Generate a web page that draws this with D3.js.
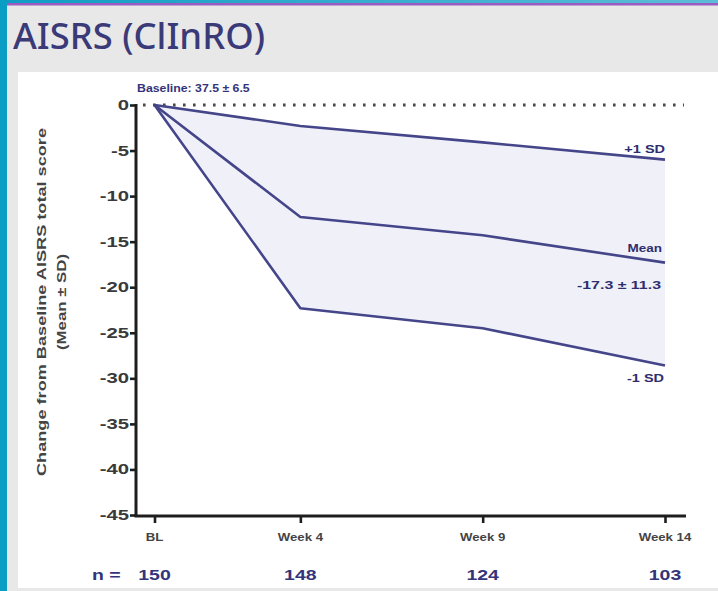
<!DOCTYPE html>
<html>
<head>
<meta charset="utf-8">
<script src="https://cdn.jsdelivr.net/npm/d3@7/dist/d3.min.js"></script>
<style>
  html, body { margin: 0; padding: 0; background: #e8e8e8; }
  svg { display: block; }
</style>
</head>
<body>
<svg id="chart" width="718" height="591"></svg>
<script>
// Visits (weeks from baseline) and their tick labels
const weeks = [0, 4, 9, 14];
const visitLabels = ["BL", "Week 4", "Week 9", "Week 14"];
const nPatients = [150, 148, 124, 103];

// Change from baseline in AISRS total score
const meanChange = [0, -12.3, -14.3, -17.3];
const plusOneSD  = [0, -2.3, -4.1, -6.0];
const minusOneSD = [0, -22.3, -24.5, -28.6];

const yTicks = [0, -5, -10, -15, -20, -25, -30, -35, -40, -45];

const navy = "#45458a";
const textNavy = "#34347a";
const axisInk = "#1e1e1e";
const tickInk = "#3c3c3c";

const svg = d3.select("#chart");

// page frame: grey card, teal edge, coloured top rule, white chart panel
svg.append("rect").attr("x", 0).attr("y", 0).attr("width", 718).attr("height", 591).attr("fill", "#e8e8e8");
const topGrad = svg.append("defs").append("linearGradient").attr("id", "topRule");
topGrad.append("stop").attr("offset", "0%").attr("stop-color", "#0f9cc4");
topGrad.append("stop").attr("offset", "100%").attr("stop-color", "#5dbcd8");
svg.append("rect").attr("x", 0).attr("y", 0).attr("width", 718).attr("height", 3).attr("fill", "url(#topRule)");
svg.append("rect").attr("x", 0).attr("y", 3).attr("width", 718).attr("height", 2.5).attr("fill", "#9a5cc0");
svg.append("rect").attr("x", 0).attr("y", 0).attr("width", 7).attr("height", 591).attr("fill", "#0a9ec5");
svg.append("rect").attr("x", 18).attr("y", 72).attr("width", 700).attr("height", 516).attr("fill", "#ffffff");

svg.append("text")
  .attr("x", 13).attr("y", 49)
  .attr("font-family", "'Noto Sans', 'Open Sans', sans-serif")
  .attr("font-size", 36).attr("font-weight", 500)
  .attr("fill", "#3a3a78")
  .attr("textLength", 252).attr("lengthAdjust", "spacingAndGlyphs")
  .text("AISRS (ClInRO)");

// scales
const x = d3.scaleLinear().domain([0, 14]).range([154.5, 665]);
const y = d3.scaleLinear().domain([0, -45]).range([105, 515]);

const font = "'Liberation Sans', Arial, sans-serif";

// stretched text helper
function label(parent, str, px, py, opts) {
  const o = Object.assign({ size: 12, sx: 1.3, anchor: "start", fill: tickInk, weight: "bold" }, opts || {});
  return parent.append("text")
    .attr("transform", `translate(${px},${py}) scale(${o.sx},1)`)
    .attr("text-anchor", o.anchor)
    .attr("font-family", font)
    .attr("font-size", o.size)
    .attr("font-weight", o.weight)
    .attr("fill", o.fill)
    .text(str);
}

const plot = svg.append("g");

// SD band
const rows = weeks.map((w, i) => ({ w, m: meanChange[i], hi: plusOneSD[i], lo: minusOneSD[i] }));
plot.append("path")
  .datum(rows)
  .attr("fill", "#f0f1f8")
  .attr("d", d3.area().x(d => x(d.w)).y0(d => y(d.lo)).y1(d => y(d.hi)));

// dotted zero reference
plot.append("line")
  .attr("x1", 143).attr("x2", 684)
  .attr("y1", y(0)).attr("y2", y(0))
  .attr("stroke", "#4a4a4a").attr("stroke-width", 3)
  .attr("stroke-dasharray", "2.6,7.4");

// mean and +/-1 SD lines
const lineGen = key => d3.line().x(d => x(d.w)).y(d => y(d[key]));
["hi", "m", "lo"].forEach(k => {
  plot.append("path")
    .datum(rows)
    .attr("fill", "none")
    .attr("stroke", navy)
    .attr("stroke-width", 2.6)
    .attr("stroke-linejoin", "round")
    .attr("d", lineGen(k));
});

// y axis
const yAxis = plot.append("g")
  .attr("transform", "translate(136,0)")
  .call(d3.axisLeft(y).tickValues(yTicks).tickSize(6).tickPadding(3).tickFormat(d3.format("d")));
yAxis.select(".domain").remove();
yAxis.selectAll(".tick line").attr("stroke", axisInk).attr("stroke-width", 2.6);
yAxis.selectAll(".tick text").remove();
yTicks.forEach(t => label(plot, String(t), 129, y(t) + 5, { size: 14, sx: 1.45, anchor: "end", fill: "#3a3a3a" }));
plot.append("line").attr("x1", 136).attr("x2", 136).attr("y1", y(0) - 1).attr("y2", 517)
  .attr("stroke", axisInk).attr("stroke-width", 3);

// x axis
const xAxis = plot.append("g")
  .attr("transform", "translate(0,516)")
  .call(d3.axisBottom(x).tickValues(weeks).tickSize(7).tickFormat(""));
xAxis.select(".domain").remove();
xAxis.selectAll(".tick line").attr("stroke", axisInk).attr("stroke-width", 2.6);
plot.append("line").attr("x1", 134.5).attr("x2", 686).attr("y1", 516).attr("y2", 516)
  .attr("stroke", axisInk).attr("stroke-width", 3);
weeks.forEach((w, i) => label(plot, visitLabels[i], x(w), 541, { size: 11.5, sx: 1.15, anchor: "middle", fill: "#444" }));

// patients per visit
label(plot, "n =", 92, 580, { size: 15, sx: 1.3, fill: textNavy });
weeks.forEach((w, i) => label(plot, String(nPatients[i]), x(w), 580, { size: 15, sx: 1.3, anchor: "middle", fill: textNavy }));

// annotations
label(plot, "Baseline: 37.5 \u00b1 6.5", 137, 92, { size: 11, sx: 1.12, fill: textNavy });
label(plot, "+1 SD", 665, 153, { size: 10, sx: 1.45, anchor: "end", fill: "#2e2e6e" });
label(plot, "Mean", 662, 251.5, { size: 10, sx: 1.35, anchor: "end", fill: "#2e2e6e" });
label(plot, "-17.3 \u00b1 11.3", 661, 289, { size: 11, sx: 1.45, anchor: "end", fill: "#2e2e6e" });
label(plot, "-1 SD", 664, 381.5, { size: 10, sx: 1.45, anchor: "end", fill: "#2e2e6e" });

// y axis title
const yTitle = plot.append("g").attr("transform", "translate(0,302) rotate(-90)");
yTitle.append("text")
  .attr("x", 0).attr("y", 46)
  .attr("text-anchor", "middle")
  .attr("font-family", font).attr("font-size", 13.5).attr("font-weight", "bold")
  .attr("fill", "#444")
  .attr("textLength", 348).attr("lengthAdjust", "spacingAndGlyphs")
  .text("Change from Baseline AISRS total score");
yTitle.append("text")
  .attr("x", 0).attr("y", 66)
  .attr("text-anchor", "middle")
  .attr("font-family", font).attr("font-size", 13.5).attr("font-weight", "bold")
  .attr("fill", "#444")
  .attr("textLength", 96).attr("lengthAdjust", "spacingAndGlyphs")
  .text("(Mean \u00b1 SD)");
</script>
</body>
</html>
